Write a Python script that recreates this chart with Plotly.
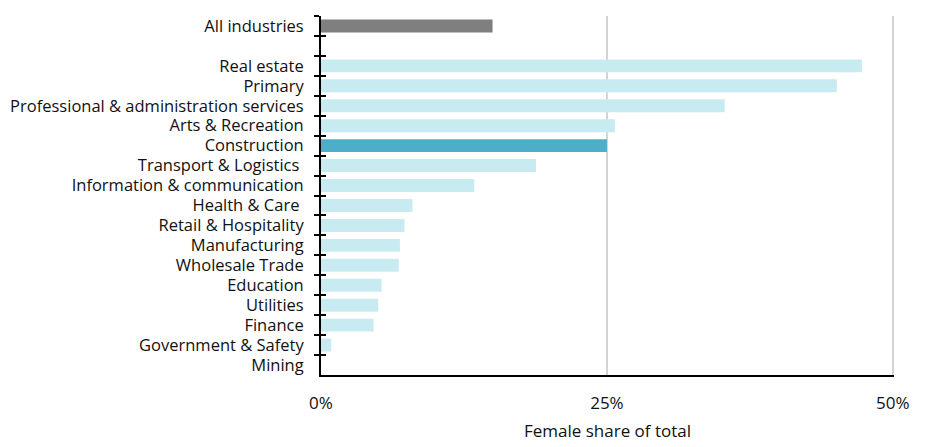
import plotly.graph_objects as go

categories = ["All industries", " ", "Real estate", "Primary", "Professional & administration services",
              "Arts & Recreation", "Construction", "Transport & Logistics ", "Information & communication",
              "Health & Care ", "Retail & Hospitality", "Manufacturing", "Wholesale Trade", "Education",
              "Utilities", "Finance", "Government & Safety", "Mining"]
values = [15.0, None, 47.3, 45.1, 35.3, 25.7, 25.0, 18.8, 13.4, 8.0, 7.3, 6.9, 6.8, 5.3, 5.0, 4.6, 0.9, 0.0]

LIGHT = "#c8ebf1"
colors = []
for c in categories:
    if c == "All industries":
        colors.append("#7f7f7f")
    elif c == "Construction":
        colors.append("#4eaec9")
    else:
        colors.append(LIGHT)

FONT = "Open Sans"

fig = go.Figure()
fig.add_trace(go.Bar(x=values, y=categories, orientation="h", marker=dict(color=colors, line=dict(width=0)),
                     width=0.65, showlegend=False, hoverinfo="x+y"))
fig.add_trace(go.Bar(x=[None] * len(categories), y=categories, orientation="h", yaxis="y2",
                     showlegend=False, hoverinfo="skip"))

fig.update_layout(
    width=925, height=447,
    margin=dict(l=321, r=31, t=16, b=72),
    paper_bgcolor="white", plot_bgcolor="white",
    font=dict(family=FONT, color="#111111", size=15),
    bargap=0.35,
    xaxis=dict(range=[0, 50.1], tickvals=[0, 25, 50], ticktext=["0%", "25%", "50%"],
               showgrid=True, gridcolor="#d4d4d4", gridwidth=1.5, zeroline=False, automargin=False,
               showline=True, linecolor="black", linewidth=2, ticks="",
               ticklabelstandoff=12, tickfont=dict(size=17, family=FONT),
               title=dict(text="Female share of total", font=dict(size=17, family=FONT), standoff=12)),
    yaxis=dict(categoryorder="array", categoryarray=categories, autorange="reversed", automargin=False,
               tickmode="linear", tick0=0, dtick=1,
               showline=True, linecolor="black", linewidth=2, ticks="outside", tickson="boundaries",
               ticklen=5, tickwidth=2, tickcolor="black", showgrid=False, zeroline=False,
               ticklabelstandoff=12, tickfont=dict(size=16.5, family=FONT)),
    yaxis2=dict(overlaying="y", matches="y", side="left", ticks="inside", tickson="boundaries",
                tickmode="linear", tick0=0, dtick=1,
                ticklen=5, tickwidth=2, tickcolor="black", showticklabels=False, showgrid=False,
                automargin=False,
                zeroline=False, showline=False, categoryorder="array", categoryarray=categories),
)

fig.write_html("out.html", config={"displayModeBar": False},
               post_script="document.body.style.margin='0';document.body.style.padding='0';")
